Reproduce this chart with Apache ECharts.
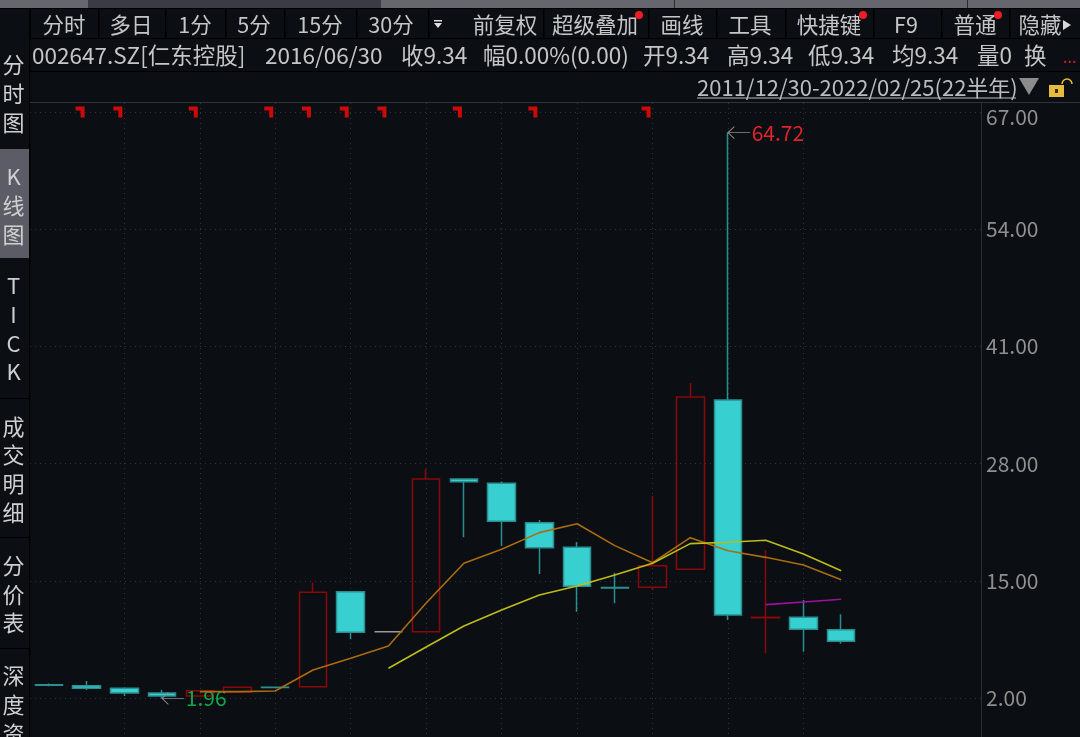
<!DOCTYPE html>
<html>
<head>
<meta charset="utf-8">
<style>
html, body { margin: 0; padding: 0; background: #0b0e13; }
#chart { width: 1080px; height: 737px; }
</style>
<script src="https://cdn.jsdelivr.net/npm/echarts@6/dist/echarts.min.js"></script>
</head>
<body>
<div id="chart"></div>
<script>
// half-year bars
let periods = ['2011/12/30', '2012/06/29', '2012/12/31', '2013/06/28', '2013/12/31', '2014/06/30', '2014/12/31', '2015/06/30',
    '2015/12/31', '2016/06/30', '2016/12/30', '2017/06/30', '2017/12/29', '2018/06/29', '2018/12/28', '2019/06/28',
    '2019/12/31', '2020/06/30', '2020/12/31', '2021/06/30', '2021/12/31', '2022/02/25'];
let openValues = [3.46, 3.36, 3.08, 2.55, 2.22, 2.63, 3.2, 3.25, 13.79, 9.34, 9.34, 26.29, 25.82, 21.45, 18.72, 14.25, 14.28, 16.28, 35.06, 10.91, 10.95, 9.58];
let closeValues = [3.42, 3.07, 2.55, 2.22, 2.81, 3.19, 3.16, 13.72, 9.29, 9.34, 26.29, 25.99, 21.6, 18.67, 14.39, 14.2, 16.68, 35.39, 11.21, 10.95, 9.62, 8.28];
let lowValues = [3.3, 2.89, 2.22, 1.96, 2.2, 2.6, 3.1, 3.2, 8.51, 9.34, 9.3, 19.83, 18.86, 15.75, 11.57, 12.5, 13.98, 16.2, 10.65, 6.96, 7.14, 8.02];
let highValues = [3.6, 3.89, 3.19, 2.89, 2.85, 3.25, 3.25, 14.79, 13.8, 9.34, 27.4, 26.3, 26.0, 21.75, 19.3, 15.9, 24.44, 36.94, 64.72, 18.42, 12.87, 11.28];

let ma3Values = [null, null, null, null, 2.7, 2.7, 2.78, 5.11, 6.4, 7.77, 12.54, 16.94, 18.49, 20.34, 21.33, 18.9, 17.0, 19.78, 18.34, 17.6, 16.75, 15.12];
let ma10Values = [null, null, null, null, null, null, null, null, null, 5.29, 7.66, 9.99, 11.76, 13.43, 14.42, 15.64, 16.94, 19.12, 19.27, 19.49, 17.97, 16.12];
let ma20Values = [null, null, null, null, null, null, null, null, null, null, null, null, null, null, null, null, null, null, null, 12.35, 12.65, 12.95];

let flagBars = [1, 2, 4, 6, 7, 8, 9, 11, 13, 16];
let flagLevel = 67;
let maxBar = 18, maxPrice = 64.72;
let minBar = 3, minPrice = 1.96;

let yTicks = [2, 15, 28, 41, 54, 67];
let xGridBars = [2, 4, 6, 8, 10, 12, 14, 16, 18, 20];

let toolbarLabels = ['分时', '多日', '1分', '5分', '15分', '30分', '前复权', '超级叠加', '画线', '工具', '快捷键', 'F9', '普通', '隐藏'];
let infoLabels = ['002647.SZ[仁东控股]', '2016/06/30', '收9.34', '幅0.00%(0.00)', '开9.34', '高9.34', '低9.34', '均9.34', '量0', '换'];
let sideLabels = ['分', '时', '图', 'K', '线', '图', 'T', 'I', 'C', 'K', '成', '交', '明', '细', '分', '价', '表', '深', '度', '资'];
let rangeLabel = '2011/12/30-2022/02/25(22半年)';

// layout of the software chrome round the plot
let toolbarX = [64, 131, 195, 254, 320, 391, 505, 595, 682, 750, 829, 906, 975, 1040];
let toolbarSeps = [29, 98, 165, 225, 284, 356, 428, 543, 648, 716, 785, 873, 941, 1009];
let infoX = [32, 265, 401, 483, 643, 727, 808, 892, 977, 1024];
let sideY = [65, 94, 123, 177, 206, 235, 286, 315, 344, 372, 427, 455, 484, 513, 566, 595, 623, 676, 705, 734];
let sideSeps = [398, 537, 648];
let dotX = [639, 863, 998];

let fontName = '"Noto Sans CJK SC", "Noto Sans", sans-serif';
let textColor = '#c6c6c6';
let gridColor = '#2f3237';

function txt(text, x, y, align, color, size) {
    return {
        type: 'text', silent: true, x: x, y: y,
        style: { text: text, align: align, verticalAlign: 'middle', fill: color || textColor, font: (size || 21.5) + 'px ' + fontName }
    };
}
function box(x, y, w, h, color) {
    return { type: 'rect', silent: true, shape: { x: x, y: y, width: w, height: h }, style: { fill: color } };
}
function tri(points, color) {
    return { type: 'polygon', silent: true, shape: { points: points }, style: { fill: color } };
}

function chromeElements() {
    let els = [];
    // browser-like tabs on the very top
    els.push(box(0, 0, 1080, 8, '#66666f'));
    els.push(box(88, 0, 293, 8, '#3b3b45'));
    els.push(box(674, 0, 1, 8, '#2a2a30'));
    els.push(box(967, 0, 1, 8, '#2a2a30'));
    els.push(box(0, 8, 1080, 1, '#000000'));
    // sidebar
    els.push(box(0, 149, 29, 109, '#5c5c67'));
    els.push(box(29, 9, 1.5, 728, '#000000'));
    sideSeps.forEach(function (y) { els.push(box(0, y, 29, 1, '#000000')); });
    sideLabels.forEach(function (s, i) { els.push(txt(s, 13.5, sideY[i], 'center', '#cfcfcf', 22)); });
    // toolbar
    toolbarSeps.forEach(function (x) { els.push(box(x, 9, 1.5, 29, '#000000')); });
    toolbarLabels.forEach(function (s, i) { els.push(txt(s, toolbarX[i], 25, 'center')); });
    els.push(box(434, 20, 8, 1.5, '#e0e0e0'));
    els.push(tri([[434, 23], [442, 23], [438, 28]], '#e0e0e0'));
    els.push(tri([[1063, 20], [1071, 25], [1063, 30]], '#d8d8d8'));
    dotX.forEach(function (x) {
        els.push({ type: 'circle', silent: true, shape: { cx: x, cy: 15, r: 4 }, style: { fill: '#ee1c25' } });
    });
    els.push(box(30, 38, 1050, 1, '#000000'));
    // info row
    infoLabels.forEach(function (s, i) { els.push(txt(s, infoX[i], 55, 'left', textColor, 22.5)); });
    els.push(txt('...', 1063, 57, 'left', '#d5202a', 16));
    els.push(box(30, 71, 1050, 1, '#000000'));
    // date range and lock
    els.push(txt(rangeLabel, 697, 88, 'left', '#b9bcc0', 22));
    els.push(box(697, 97.5, 319, 1, '#b9bcc0'));
    els.push(tri([[1019, 78], [1039, 78], [1029, 95]], '#8c8c8c'));
    els.push(box(1049, 85, 15, 12, '#e9b93c'));
    els.push(box(1055, 89, 3, 4, '#3a2c08'));
    els.push({ type: 'arc', silent: true, shape: { cx: 1067, cy: 84, r: 5, startAngle: Math.PI, endAngle: 0, clockwise: true }, style: { stroke: '#e9b93c', fill: 'none', lineWidth: 1.5 } });
    // top edge of the plot
    els.push(box(30, 102, 1050, 1, '#303338'));
    return els;
}

function linePoints(values) {
    let res = [];
    values.forEach(function (v, i) {
        if (v !== null) {
            res.push([i, v]);
        }
    });
    return res;
}

function maSeries(name, values, color) {
    return {
        name: name, type: 'line', data: linePoints(values), showSymbol: false, silent: true,
        lineStyle: { color: color, width: 1.6 }
    };
}

let arrowPath = 'path://M22 6H1M7 0L1 6L7 12';

function extremeSeries(bar, price, color) {
    return {
        type: 'scatter', silent: true, data: [[bar, price]],
        symbol: arrowPath, symbolSize: [22, 12], symbolOffset: [11, 0],
        itemStyle: { color: 'transparent', borderColor: '#8c8c8c', borderWidth: 1, opacity: 1 },
        label: {
            show: true, position: 'right', distance: 1, color: color, fontSize: 21, fontFamily: fontName,
            formatter: function (p) { return p.value[1].toFixed(2); }
        }
    };
}

let candleData = periods.map(function (d, i) {
    return { name: d, value: [i, openValues[i], closeValues[i], lowValues[i], highValues[i]] };
});

let option = {
    backgroundColor: '#0b0e13',
    animation: false,
    textStyle: { fontFamily: fontName },
    grid: { left: 30, right: 99, top: 103, bottom: 0 },
    xAxis: {
        type: 'value', min: -0.5, max: 24.705,
        axisLine: { show: false, onZero: false },
        axisTick: { show: false, customValues: xGridBars },
        axisLabel: { show: false, customValues: xGridBars },
        splitLine: { show: true, lineStyle: { color: gridColor, type: [1, 4] } }
    },
    yAxis: {
        type: 'value', position: 'right', min: -2.33, max: 68,
        axisLine: { show: true, onZero: false, lineStyle: { color: '#2b2e33' } },
        axisTick: { show: false, customValues: yTicks },
        axisLabel: {
            customValues: yTicks, margin: 5, color: '#8f8f8f', fontSize: 21, fontFamily: fontName,
            formatter: function (v) {
                // the top label is pushed down a bit so it stays inside the frame
                return v === 67 ? '{top|' + v.toFixed(2) + '}' : v.toFixed(2);
            },
            rich: { top: { color: '#8f8f8f', fontSize: 21, fontFamily: fontName, padding: [10, 0, 0, 0] } }
        },
        splitLine: { show: true, lineStyle: { color: gridColor, type: [1, 4] } }
    },
    series: [
        {
            type: 'candlestick', data: candleData, barWidth: 28, silent: true,
            itemStyle: {
                color: 'transparent', borderColor: '#8a0808',
                color0: '#37cfcf', borderColor0: '#2a8f90',
                borderColorDoji: '#9a9a9a', borderWidth: 1.5
            }
        },
        maSeries('MA3', ma3Values, '#ab6c10'),
        maSeries('MA10', ma10Values, '#bdbd18'),
        maSeries('MA20', ma20Values, '#a010a0'),
        {
            type: 'scatter', silent: true, data: flagBars.map(function (b) { return [b, flagLevel]; }),
            symbol: 'path://M0 0H9V11H5V4H0Z', symbolSize: [9, 11], symbolOffset: [-6.5, 0],
            itemStyle: { color: '#cc0a0a', opacity: 1 }
        },
        extremeSeries(maxBar, maxPrice, '#e0242c'),
        extremeSeries(minBar, minPrice, '#0fa84a')
    ],
    graphic: { elements: chromeElements() }
};

let myChart = echarts.init(document.getElementById('chart'));
myChart.setOption(option);
</script>
</body>
</html>
